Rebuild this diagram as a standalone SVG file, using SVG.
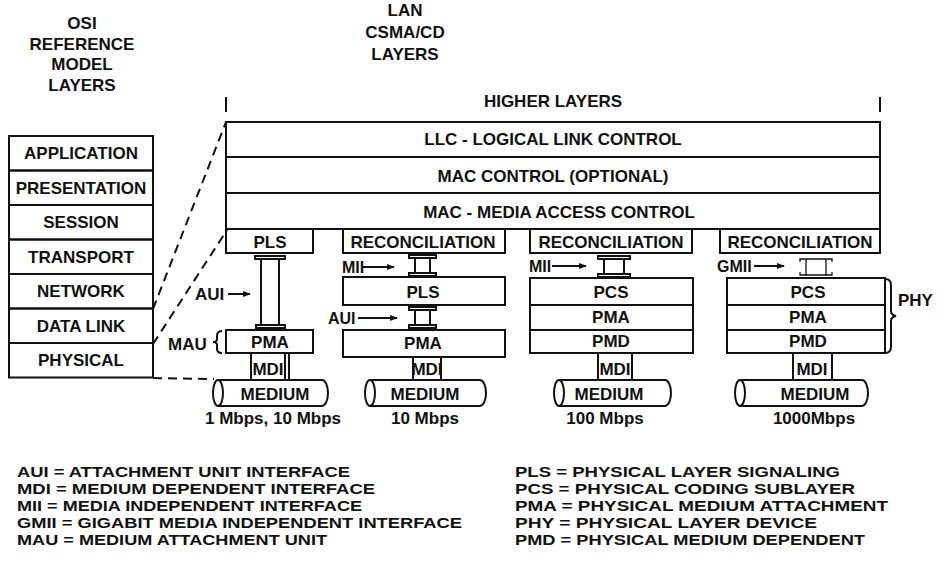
<svg xmlns="http://www.w3.org/2000/svg" width="938" height="569" viewBox="0 0 938 569">
<style>
text{font-family:"Liberation Sans",Arial,sans-serif;font-weight:bold;fill:#111}
.c{text-anchor:middle;font-size:17px}
.s{font-size:16px}
.g{font-size:15px}
.b{fill:none;stroke:#111;stroke-width:2}
.ln{stroke:#111;stroke-width:2;fill:none}
.d{stroke:#111;stroke-width:2;fill:none;stroke-dasharray:9 6}
.th{stroke:#111;stroke-width:1.3;fill:none}
</style>
<defs>
<marker id="ah" markerWidth="8" markerHeight="8" refX="7" refY="4" orient="auto" markerUnits="userSpaceOnUse">
<path d="M0,1 L8,4 L0,7 Z" fill="#111"/>
</marker>
</defs>
<rect width="938" height="569" fill="#fff"/>

<g id="osi-header">
<text class="c" x="82" y="29">OSI</text>
<text class="c" x="82" y="50">REFERENCE</text>
<text class="c" x="82" y="70">MODEL</text>
<text class="c" x="82" y="91">LAYERS</text>
</g>
<g id="lan-header">
<text class="c" x="405" y="16">LAN</text>
<text class="c" x="405" y="38">CSMA/CD</text>
<text class="c" x="405" y="60">LAYERS</text>
</g>

<g id="osi-stack">
<rect class="b" x="9" y="136" width="144" height="34.5"/>
<rect class="b" x="9" y="170.5" width="144" height="34.5"/>
<rect class="b" x="9" y="205" width="144" height="34.5"/>
<rect class="b" x="9" y="239.5" width="144" height="34.5"/>
<rect class="b" x="9" y="274" width="144" height="34.5"/>
<rect class="b" x="9" y="308.5" width="144" height="34.5"/>
<rect class="b" x="9" y="343" width="144" height="34.5"/>
<text class="c" x="81" y="159">APPLICATION</text>
<text class="c" x="81" y="194">PRESENTATION</text>
<text class="c" x="81" y="228">SESSION</text>
<text class="c" x="81" y="263">TRANSPORT</text>
<text class="c" x="81" y="297">NETWORK</text>
<text class="c" x="81" y="332">DATA LINK</text>
<text class="c" x="81" y="366">PHYSICAL</text>
</g>

<g id="lan-common">
<line class="ln" x1="226" y1="97" x2="226" y2="112"/>
<line class="ln" x1="880" y1="97" x2="880" y2="112"/>
<text class="c" x="553" y="107">HIGHER LAYERS</text>
<rect class="b" x="226" y="122" width="654" height="107"/>
<line class="ln" x1="226" y1="157" x2="880" y2="157"/>
<line class="ln" x1="226" y1="193" x2="880" y2="193"/>
<text class="c" x="553" y="145">LLC - LOGICAL LINK CONTROL</text>
<text class="c" x="553" y="182">MAC CONTROL (OPTIONAL)</text>
<text class="c" x="559" y="218">MAC - MEDIA ACCESS CONTROL</text>
</g>

<g id="connectors">
<line class="d" x1="153" y1="309" x2="226" y2="122"/>
<line class="d" x1="153" y1="344" x2="227" y2="230"/>
<line class="d" x1="153" y1="378" x2="214" y2="379"/>
<line class="ln" x1="228" y1="294" x2="250" y2="294" stroke-width="1.5" marker-end="url(#ah)"/>
<line class="ln" x1="363" y1="267" x2="394" y2="267" stroke-width="1.5" marker-end="url(#ah)"/>
<line class="ln" x1="358" y1="318" x2="397" y2="318" stroke-width="1.5" marker-end="url(#ah)"/>
<line class="ln" x1="552" y1="266" x2="586" y2="266" stroke-width="1.5" marker-end="url(#ah)"/>
<line class="ln" x1="754" y1="266" x2="784" y2="266" stroke-width="1.5" marker-end="url(#ah)"/>
</g>

<g id="col1-1mbps">
<rect class="b" x="226" y="229" width="87" height="24"/>
<text class="c" x="270" y="248">PLS</text>
<rect class="b" x="255" y="256" width="30" height="3"/>
<line class="ln" x1="261" y1="259" x2="261" y2="325"/>
<line class="ln" x1="279" y1="259" x2="279" y2="325"/>
<rect class="b" x="256" y="325" width="29" height="3"/>
<text x="195" y="300" style="font-size:17px">AUI</text>
<text x="168" y="350" style="font-size:17px">MAU</text>
<path class="ln" d="M222,331 Q217,331 217,336 L217,339 Q217,342 213,342 Q217,342 217,345 L217,349 Q217,353 222,353" stroke-width="1.6"/>
<rect class="b" x="226" y="330" width="87" height="23"/>
<text class="c" x="270" y="348">PMA</text>
<line class="ln" x1="251" y1="353" x2="251" y2="380"/>
<line class="ln" x1="285" y1="353" x2="285" y2="380"/>
<line class="ln" x1="289" y1="353" x2="289" y2="380"/>
<text class="c" x="268" y="375">MDI</text>
<path class="ln" d="M218,380 L322,380 A6,13 0 0 1 322,406 L218,406"/>
<ellipse class="b" cx="218" cy="393" rx="5" ry="13"/>
<text class="c" x="275" y="400">MEDIUM</text>
<text class="c" x="273" y="424">1 Mbps, 10 Mbps</text>
</g>

<g id="col2-10mbps">
<path class="ln" d="M343,229 L343,253 L505,253 L505,229"/>
<text class="c" x="423" y="248">RECONCILIATION</text>
<text x="342" y="273" class="s">MII</text>
<rect class="b" x="409" y="255" width="27" height="3"/>
<line class="ln" x1="415" y1="258" x2="415" y2="273"/>
<line class="ln" x1="430" y1="258" x2="430" y2="273"/>
<rect class="b" x="409" y="273" width="27" height="3"/>
<rect class="b" x="343" y="277" width="162" height="28"/>
<text class="c" x="423" y="298">PLS</text>
<text x="328" y="324" class="s">AUI</text>
<rect class="b" x="409" y="307" width="27" height="3"/>
<line class="ln" x1="415" y1="310" x2="415" y2="325"/>
<line class="ln" x1="430" y1="310" x2="430" y2="325"/>
<rect class="b" x="409" y="325" width="27" height="3"/>
<rect class="b" x="343" y="330" width="162" height="27"/>
<text class="c" x="423" y="349">PMA</text>
<line class="ln" x1="413" y1="357" x2="413" y2="380"/>
<line class="ln" x1="441" y1="357" x2="441" y2="380"/>
<text class="c" x="427" y="375">MDI</text>
<path class="ln" d="M370,380 L480,380 A6,13 0 0 1 480,406 L370,406"/>
<ellipse class="b" cx="370" cy="393" rx="5" ry="13"/>
<text class="c" x="425" y="400">MEDIUM</text>
<text class="c" x="425" y="424">10 Mbps</text>
</g>

<g id="col3-100mbps">
<path class="ln" d="M530,229 L530,253 L692,253 L692,229"/>
<text class="c" x="611" y="248">RECONCILIATION</text>
<text x="529" y="272" class="s">MII</text>
<rect class="b" x="598" y="256" width="32" height="3"/>
<line class="ln" x1="604" y1="259" x2="604" y2="274"/>
<line class="ln" x1="624" y1="259" x2="624" y2="274"/>
<rect class="b" x="598" y="274" width="32" height="3"/>
<rect class="b" x="530" y="278" width="163" height="75"/>
<line class="ln" x1="530" y1="305" x2="693" y2="305"/>
<line class="ln" x1="530" y1="330" x2="693" y2="330"/>
<text class="c" x="611" y="298">PCS</text>
<text class="c" x="611" y="323">PMA</text>
<text class="c" x="611" y="347">PMD</text>
<line class="ln" x1="598" y1="353" x2="598" y2="380"/>
<line class="ln" x1="632" y1="353" x2="632" y2="380"/>
<text class="c" x="615" y="375">MDI</text>
<path class="ln" d="M559,380 L665,380 A6,13 0 0 1 665,406 L559,406"/>
<ellipse class="b" cx="559" cy="393" rx="5" ry="13"/>
<text class="c" x="609" y="400">MEDIUM</text>
<text class="c" x="605" y="424">100 Mbps</text>
</g>

<g id="col4-1000mbps">
<path class="ln" d="M720,229 L720,253 L880,253 L880,229"/>
<text class="c" x="800" y="248">RECONCILIATION</text>
<text x="717" y="272" class="s">GMII</text>
<path class="th" d="M800,262 L800,259 L832,259 L832,262 M806,259 L806,275 M826,259 L826,275 M800,272 L800,275 L832,275 L832,272"/>
<rect class="b" x="727" y="278" width="158" height="75"/>
<line class="ln" x1="727" y1="305" x2="885" y2="305"/>
<line class="ln" x1="727" y1="330" x2="885" y2="330"/>
<text class="c" x="808" y="298">PCS</text>
<text class="c" x="808" y="323">PMA</text>
<text class="c" x="808" y="347">PMD</text>
<path class="ln" d="M885,279 Q891,279 891,285 L891,311 Q891,315 896,316 Q891,317 891,321 L891,347 Q891,353 885,353" stroke-width="1.6"/>
<text x="898" y="306" style="font-size:17px">PHY</text>
<line class="ln" x1="793" y1="353" x2="793" y2="380"/>
<line class="ln" x1="832" y1="353" x2="832" y2="380"/>
<text class="c" x="812" y="375">MDI</text>
<path class="ln" d="M740,380 L862,380 A6,13 0 0 1 862,406 L740,406"/>
<ellipse class="b" cx="740" cy="393" rx="5" ry="13"/>
<text class="c" x="815" y="400">MEDIUM</text>
<text class="c" x="814" y="424">1000Mbps</text>
</g>

<g id="legend-left">
<text class="g" x="17" y="477" textLength="333" lengthAdjust="spacingAndGlyphs">AUI = ATTACHMENT UNIT INTERFACE</text>
<text class="g" x="17" y="494" textLength="358" lengthAdjust="spacingAndGlyphs">MDI = MEDIUM DEPENDENT INTERFACE</text>
<text class="g" x="17" y="511" textLength="345" lengthAdjust="spacingAndGlyphs">MII = MEDIA INDEPENDENT INTERFACE</text>
<text class="g" x="17" y="528" textLength="445" lengthAdjust="spacingAndGlyphs">GMII = GIGABIT MEDIA INDEPENDENT INTERFACE</text>
<text class="g" x="17" y="545" textLength="310" lengthAdjust="spacingAndGlyphs">MAU = MEDIUM ATTACHMENT UNIT</text>
</g>
<g id="legend-right">
<text class="g" x="515" y="477" textLength="325" lengthAdjust="spacingAndGlyphs">PLS = PHYSICAL LAYER SIGNALING</text>
<text class="g" x="515" y="494" textLength="340" lengthAdjust="spacingAndGlyphs">PCS = PHYSICAL CODING SUBLAYER</text>
<text class="g" x="515" y="511" textLength="373" lengthAdjust="spacingAndGlyphs">PMA = PHYSICAL MEDIUM ATTACHMENT</text>
<text class="g" x="515" y="528" textLength="302" lengthAdjust="spacingAndGlyphs">PHY = PHYSICAL LAYER DEVICE</text>
<text class="g" x="515" y="545" textLength="350" lengthAdjust="spacingAndGlyphs">PMD = PHYSICAL MEDIUM DEPENDENT</text>
</g>
</svg>
